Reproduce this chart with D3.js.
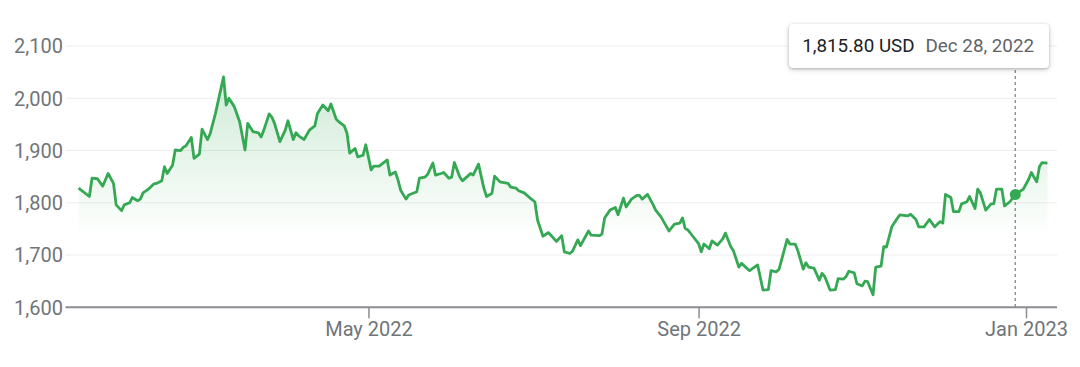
<!DOCTYPE html>
<html lang="en">
<head>
<meta charset="utf-8">
<title>Gold price, 1 year</title>
<script src="https://d3js.org/d3.v7.min.js"></script>
<style>
body{margin:0;background:#fff;font-family:Roboto, Arial, sans-serif;}
#chart{position:relative;width:1080px;height:367px;}
.tip{position:absolute;background:#fff;border-radius:4px;
     box-shadow:0 1px 3px rgba(60,64,67,.35),0 2px 6px rgba(60,64,67,.15);
     height:44px;width:260px;box-sizing:border-box;padding:0 13px;
     display:flex;align-items:center;font-size:18.8px;white-space:nowrap;}
.tip .val{color:#202124;}
.tip .dt{color:#5f6368;margin-left:11px;}
</style>
</head>
<body>
<div id="chart"></div>
<script>
// days counted from 1 Jan 2022
const days = [12,16,17,19,21,23,25,26,28,29,
  31,32,34,35,36,38,40,41,43,44,
  45,47,48,50,51,52,54,55,57,58,
  60,61,63,66,67,68,70,72,74,75,
  77,79,80,81,83,84,85,87,89,90,
  92,93,94,96,98,100,101,103,105,106,
  108,109,111,112,113,115,116,118,119,121,
  122,124,127,128,130,131,132,134,135,138,
  139,141,142,144,145,147,148,150,151,152,
  154,155,157,158,159,161,163,164,166,167,
  169,171,172,173,175,176,178,180,182,183,
  185,187,189,190,192,193,195,196,198,199,
  202,203,206,207,208,210,212,213,215,216,
  218,220,221,222,224,226,227,229,230,232,
  234,236,237,238,239,241,243,244,245,247,
  248,250,252,253,255,256,258,259,262,265,
  267,269,270,272,273,276,277,279,280,282,
  283,284,286,288,289,290,292,294,295,297,
  298,299,301,302,304,305,306,308,309,311,
  312,313,315,317,318,321,322,324,325,327,
  329,331,333,334,335,337,338,340,341,343,
  344,346,347,348,350,352,353,354,356,357,
  359,361,364,366,367,369,370,371,373]

const prices = [1828,1812,1847,1846,1832,1856,1837,1796,1785,1796,
  1800,1810,1804,1807,1819,1826,1836,1837,1842,1869,
  1856,1872,1901,1900,1906,1909,1925,1885,1893,1941,
  1921,1932,1971,2041,1987,2000,1984,1955,1901,1952,
  1936,1934,1926,1939,1970,1964,1952,1917,1939,1957,
  1921,1934,1928,1921,1939,1947,1971,1987,1976,1989,
  1960,1955,1947,1933,1895,1904,1888,1891,1911,1863,
  1870,1870,1882,1853,1859,1844,1824,1807,1815,1821,
  1847,1849,1854,1876,1853,1856,1858,1847,1849,1877,
  1850,1842,1851,1856,1853,1874,1828,1812,1818,1851,
  1840,1838,1837,1830,1828,1823,1819,1810,1802,1767,
  1736,1743,1732,1726,1737,1706,1703,1707,1729,1718,
  1746,1738,1737,1740,1771,1786,1791,1777,1809,1792,
  1807,1814,1814,1807,1816,1797,1786,1773,1764,1746,
  1759,1761,1771,1751,1748,1735,1722,1706,1721,1712,
  1727,1719,1731,1742,1716,1708,1677,1684,1670,1681,
  1633,1634,1670,1668,1673,1730,1721,1721,1708,1673,
  1685,1677,1675,1652,1665,1659,1633,1634,1655,1654,
  1659,1669,1666,1645,1641,1650,1649,1624,1677,1679,
  1716,1715,1754,1770,1777,1775,1778,1768,1754,1754,
  1768,1754,1764,1761,1816,1810,1783,1783,1798,1802,
  1812,1789,1826,1819,1786,1798,1798,1826,1826,1794,
  1802,1815.8,1826,1845,1858,1840,1869,1877,1876]

const yTicks = [1600,1700,1800,1900,2000,2100]
const xTickDates = ["2022-05-01","2022-09-01","2023-01-01"]
const xTickLabels = ["May 2022","Sep 2022","Jan 2023"]
const hoverDay = 361
const hoverLabel = "Dec 28, 2022"
const currency = "USD"

var w = 1080, h = 367
var left = 66, right = 1057
var green = "#34a853"
var start = new Date(2022,0,1)
var parse = d3.timeParse("%Y-%m-%d")

var data = days.map(function(d,i){
    return {date: d3.timeDay.offset(start,d), price: prices[i]}
})

var xScale = d3.scaleTime()
    .domain([start, new Date(2023,0,1)])
    .range([46.4, 1026])
var yScale = d3.scaleLinear()
    .domain([1600,2100])
    .range([307.3, 46])

var svg = d3.select("#chart").append("svg")
    .attr("width",w)
    .attr("height",h)
    .style("position","absolute")
    .style("left",0).style("top",0)

//gradient under the line
var grad = svg.append("defs").append("linearGradient")
    .attr("id","fade")
    .attr("gradientUnits","userSpaceOnUse")
    .attr("x1",0).attr("x2",0)
    .attr("y1",yScale(2050)).attr("y2",yScale(1730))
grad.append("stop").attr("offset","0%").attr("stop-color",green).attr("stop-opacity",0.24)
grad.append("stop").attr("offset","100%").attr("stop-color",green).attr("stop-opacity",0)

//grid
svg.append("g").selectAll("line")
    .data(yTicks.slice(1))
    .enter()
    .append("line")
    .attr("x1",left).attr("x2",right)
    .attr("y1",function(d){return yScale(d)})
    .attr("y2",function(d){return yScale(d)})
    .attr("stroke","#ededed")
    .attr("stroke-width",1)

//y labels
var yAxis = d3.axisLeft(yScale)
    .tickValues(yTicks)
    .tickFormat(d3.format(","))
    .tickSize(0)
    .tickPadding(0)
var gy = svg.append("g")
    .attr("transform","translate(63,0)")
    .call(yAxis)
gy.select(".domain").remove()
gy.selectAll("text")
    .attr("dy","0.34em")
    .style("font-family","Roboto, Arial, sans-serif")
    .style("font-size","20px")
    .style("fill","#70757a")

//area + line
var area = d3.area()
    .x(function(d){return xScale(d.date)})
    .y0(yScale(1600))
    .y1(function(d){return yScale(d.price)})
svg.append("path")
    .datum(data)
    .attr("d",area)
    .attr("fill","url(#fade)")

//x axis
var xAxis = d3.axisBottom(xScale)
    .tickValues(xTickDates.map(parse))
    .tickFormat(function(d,i){return xTickLabels[i]})
    .tickSize(11)
    .tickPadding(4)
var gx = svg.append("g")
    .attr("transform","translate(0," + yScale(1600) + ")")
    .call(xAxis)
gx.select(".domain").remove()
gx.selectAll("line").attr("stroke","#8a8d91").attr("stroke-width",1.5)
gx.selectAll("text")
    .style("font-family","Roboto, Arial, sans-serif")
    .style("font-size","20px")
    .style("fill","#70757a")

svg.append("line")
    .attr("x1",left-0.5).attr("x2",right)
    .attr("y1",yScale(1600)).attr("y2",yScale(1600))
    .attr("stroke","#8a8d91")
    .attr("stroke-width",2)

var line = d3.line()
    .x(function(d){return xScale(d.date)})
    .y(function(d){return yScale(d.price)})
svg.append("path")
    .datum(data)
    .attr("d",line)
    .attr("fill","none")
    .attr("stroke",green)
    .attr("stroke-width",2.8)
    .attr("stroke-linejoin","round")

//hover marker
var hp = data[days.indexOf(hoverDay)]
var hx = xScale(hp.date)
svg.append("line")
    .attr("x1",hx).attr("x2",hx)
    .attr("y1",70).attr("y2",yScale(1600))
    .attr("stroke","#80868b")
    .attr("stroke-width",1.3)
    .attr("stroke-dasharray","3,3")
svg.append("circle")
    .attr("cx",hx)
    .attr("cy",yScale(hp.price))
    .attr("r",5.5)
    .attr("fill",green)

var tip = d3.select("#chart").append("div")
    .attr("class","tip")
    .style("left",(hx+34-260)+"px")
    .style("top","24px")
tip.append("span").attr("class","val").text(d3.format(",.2f")(hp.price)+" "+currency)
tip.append("span").attr("class","dt").text(hoverLabel)
</script>
</body>
</html>
